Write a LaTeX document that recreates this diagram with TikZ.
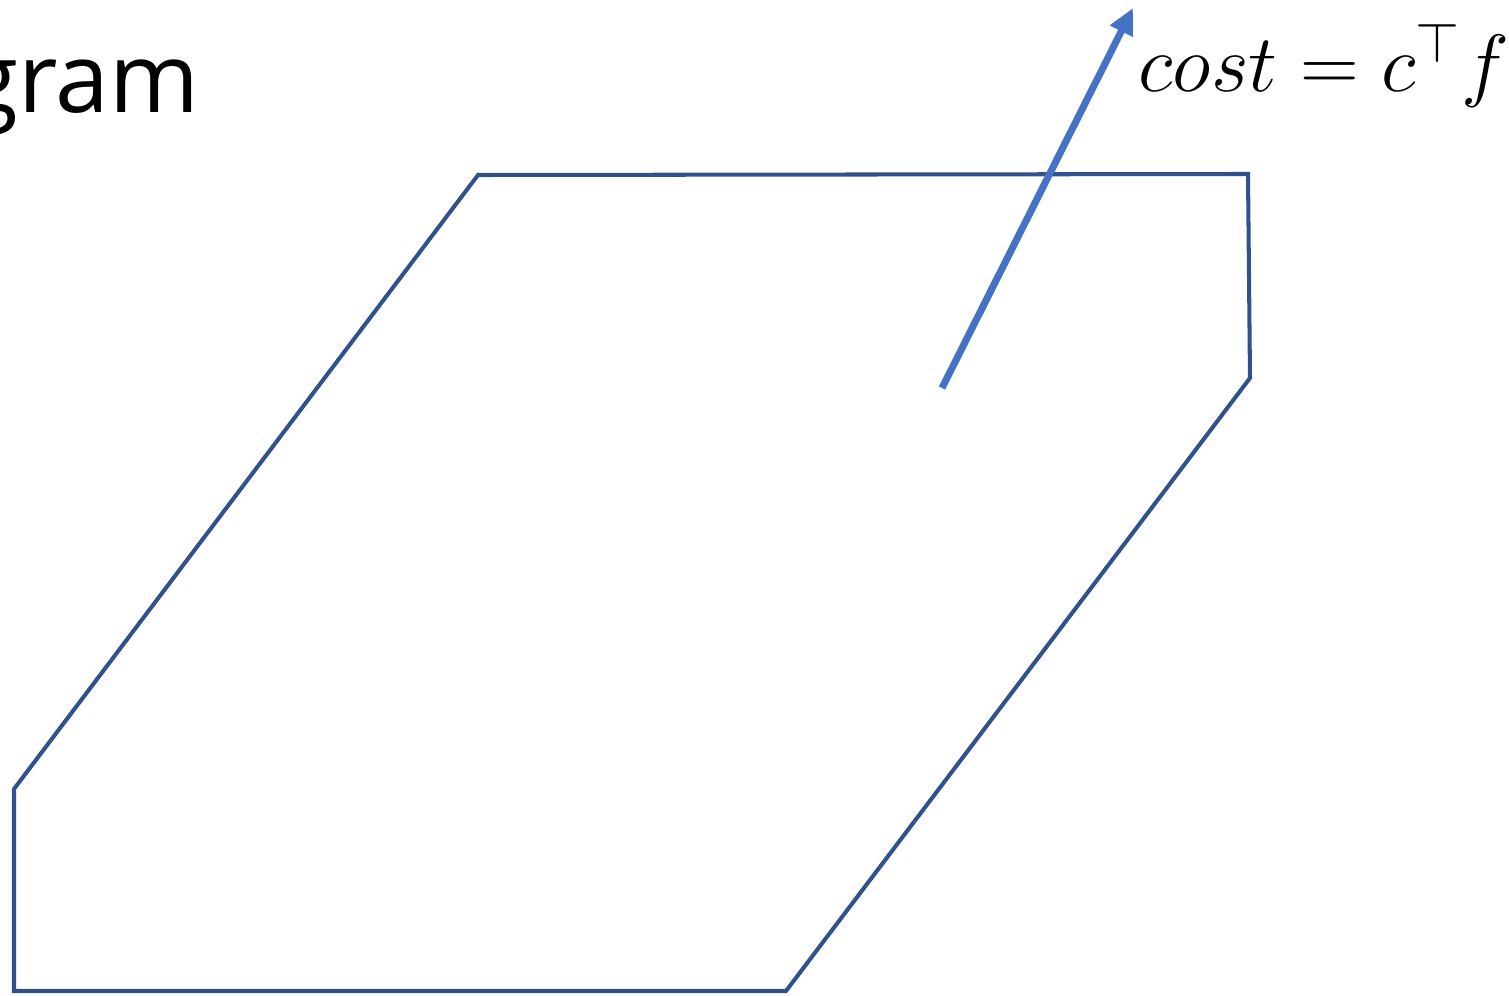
\documentclass[tikz,border=0pt]{standalone}
\usepackage{fontspec}
\setmainfont{Open Sans}
\usepackage{tikz}
\usetikzlibrary{arrows.meta,positioning}
\definecolor{polyBlue}{RGB}{47,82,143}
\definecolor{costBlue}{RGB}{68,114,196}

\begin{document}
\begin{tikzpicture}[
    region/.style={draw=polyBlue,line width=1.15pt,line join=miter},
    costarr/.style={-{Triangle[length=2.6mm,width=2.4mm]},line width=2pt,draw=costBlue},
    title/.style={font=\fontsize{27.5}{33}\selectfont,inner sep=0pt},
    eqn/.style={font=\fontsize{24}{29}\selectfont,inner sep=0pt,scale=0.93,transform shape}
  ]
  \useasboundingbox (0,0) rectangle (15.09,9.95);
  \node[title,anchor=base east] (ttl) at (2.00,8.82) {gram};
  \coordinate (v1) at (4.78,8.20);
  \coordinate (v2) at (12.48,8.21);
  \coordinate (v3) at (12.50,6.17);
  \coordinate (v4) at (7.86,0.04);
  \coordinate (v5) at (0.14,0.04);
  \coordinate (v6) at (0.14,2.06);
  \draw[region] (v1) -- (v2) -- (v3) -- (v4) -- (v5) -- (v6) -- cycle;
  \coordinate (tail) at (9.42,6.07);
  \coordinate (head) at (11.33,9.87);
  \draw[costarr] (tail) -- (head);
  \node[eqn,anchor=base west] (cost) at (11.38,9.03) {$cost = c^{\top}f$};
\end{tikzpicture}
\end{document}
